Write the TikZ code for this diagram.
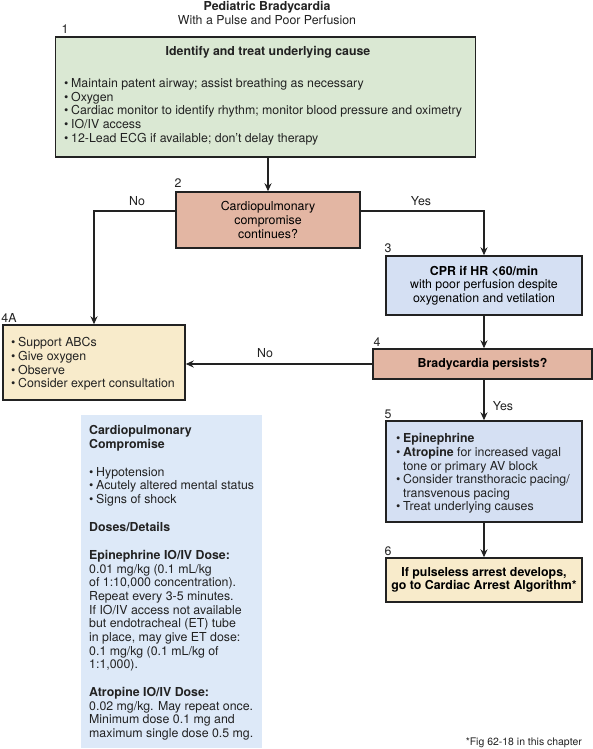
\documentclass[tikz,border=0pt]{standalone}
\usepackage{fontspec}
\setmainfont{TeX Gyre Heros}
\usetikzlibrary{arrows.meta}
\definecolor{boxgreen}{HTML}{DAE8D3}
\definecolor{boxsalmon}{HTML}{E3B6A3}
\definecolor{boxblue}{HTML}{D5E0F3}
\definecolor{boxbeige}{HTML}{F8EBCB}
\definecolor{panelblue}{HTML}{DDE9F8}
\definecolor{ink}{HTML}{222222}
\newcommand\bul{\makebox[7bp][l]{•}}
\newcommand\ind{\hspace*{7bp}}
\newcommand\topstrut{\rule{0pt}{9bp}}
\begin{document}
\begin{tikzpicture}[x=1bp,y=-1bp,
  font=\fontsize{12.4}{13.7}\selectfont,
  box/.style={draw=ink, line width=1.4bp, inner sep=2pt, align=center},
  txt/.style={inner sep=0pt, align=left, anchor=north west, text=ink},
  num/.style={inner sep=0pt, text=ink},
  lab/.style={inner sep=0pt, text=ink},
  arr/.style={draw=ink, line width=1.4bp, -{Stealth[length=8bp,width=7bp]}},
  conn/.style={draw=ink, line width=1.4bp}]
\useasboundingbox (0,0) rectangle (593,749);

% title
\node[num, font=\fontsize{12.4}{13.7}\selectfont\bfseries] (title) at (267,7) {Pediatric Bradycardia};
\node[num] (subtitle) at (267,20) {With a Pulse and Poor Perfusion};

% box 1
\node[box, fill=boxgreen, minimum width=420bp, minimum height=120bp] (box1) at (265.5,97) {};
\node[num] (n1) at (65,29) {1};
\node[num, font=\fontsize{12.4}{13.7}\selectfont\bfseries] (box1head) at (268,52) {Identify and treat underlying cause};
\node[txt] (box1list) at (64,78.3) {\topstrut\bul Maintain patent airway; assist breathing as necessary\\
\bul Oxygen\\
\bul Cardiac monitor to identify rhythm; monitor blood pressure and oximetry\\
\bul IO/IV access\\
\bul 12-Lead ECG if available; don’t delay therapy};

% box 2
\node[box, fill=boxsalmon, minimum width=184bp, minimum height=56bp] (box2) at (268,220) {Cardiopulmonary\\compromise\\continues?};
\node[num] (n2) at (178,183.5) {2};

% box 3
\node[box, fill=boxblue, minimum width=196bp, minimum height=59bp] (box3) at (484,285.5) {\textbf{CPR if HR <60/min}\\with poor perfusion despite\\oxygenation and vetilation};
\node[num] (n3) at (388,248) {3};

% box 4
\node[box, fill=boxsalmon, minimum width=219bp, minimum height=30bp, font=\fontsize{12.4}{13.7}\selectfont\bfseries] (box4) at (482.5,364) {Bradycardia persists?};
\node[num] (n4) at (377,342) {4};

% box 4A
\node[box, fill=boxbeige, minimum width=182bp, minimum height=75bp] (box4a) at (94,362.5) {};
\node[num] (n4a) at (9,318) {4A};
\node[txt] (box4alist) at (11,337.3) {\topstrut\bul Support ABCs\\
\bul Give oxygen\\
\bul Observe\\
\bul Consider expert consultation};

% box 5
\node[box, fill=boxblue, minimum width=196bp, minimum height=101bp] (box5) at (484,471.5) {};
\node[num] (n5) at (388,414) {5};
\node[txt] (box5list) at (396,433.3) {\topstrut\bul \textbf{Epinephrine}\\
\bul \textbf{Atropine} for increased vagal\\
\ind tone or primary AV block\\
\bul Consider transthoracic pacing/\\
\ind transvenous pacing\\
\bul Treat underlying causes};

% box 6
\node[box, fill=boxbeige, minimum width=196bp, minimum height=44bp, font=\fontsize{12.4}{13.4}\selectfont\bfseries] (box6) at (484,580) {If pulseless arrest develops,\\go to Cardiac Arrest Algorithm*};
\node[num] (n6) at (388,551) {6};

% side panel
\node[fill=panelblue, minimum width=181bp, minimum height=333bp, inner sep=0pt] (panel) at (171.5,581.5) {};
\node[txt] (paneltext) at (89,425.3) {\topstrut\textbf{Cardiopulmonary}\\
\textbf{Compromise}\\[14.3bp]
\bul Hypotension\\
\bul Acutely altered mental status\\
\bul Signs of shock\\[14.3bp]
\textbf{Doses/Details}\\[14.3bp]
\textbf{Epinephrine IO/IV Dose:}\\
0.01 mg/kg (0.1 mL/kg\\
of 1:10,000 concentration).\\
Repeat every 3-5 minutes.\\
If IO/IV access not available\\
but endotracheal (ET) tube\\
in place, may give ET dose:\\
0.1 mg/kg (0.1 mL/kg of\\
1:1,000).\\[14.3bp]
\textbf{Atropine IO/IV Dose:}\\
0.02 mg/kg. May repeat once.\\
Minimum dose 0.1 mg and\\
maximum single dose 0.5 mg.};

% footnote
\node[num, anchor=east, font=\fontsize{10.5}{12}\selectfont] (foot) at (582,743) {*Fig 62-18 in this chapter};

% connectors
\draw[arr] (box1.south -| box2.north) -- (box2.north);
\draw[arr] ([yshift=9bp]box2.west) -| (box4a.north);
\draw[arr] ([yshift=9bp]box2.east) -| (box3.north);
\draw[arr] (box3.south) -- (box3.south |- box4.north);
\draw[arr] (box4.west) -- (box4.west -| box4a.east);
\draw[arr] (box5.north |- box4.south) -- (box5.north);
\draw[arr] (box5.south) -- (box6.north);

% connector labels
\node[lab] (no1) at (137,201) {No};
\node[lab] (yes1) at (421,201) {Yes};
\node[lab] (no2) at (265,353) {No};
\node[lab] (yes2) at (503,406) {Yes};
\end{tikzpicture}
\end{document}
